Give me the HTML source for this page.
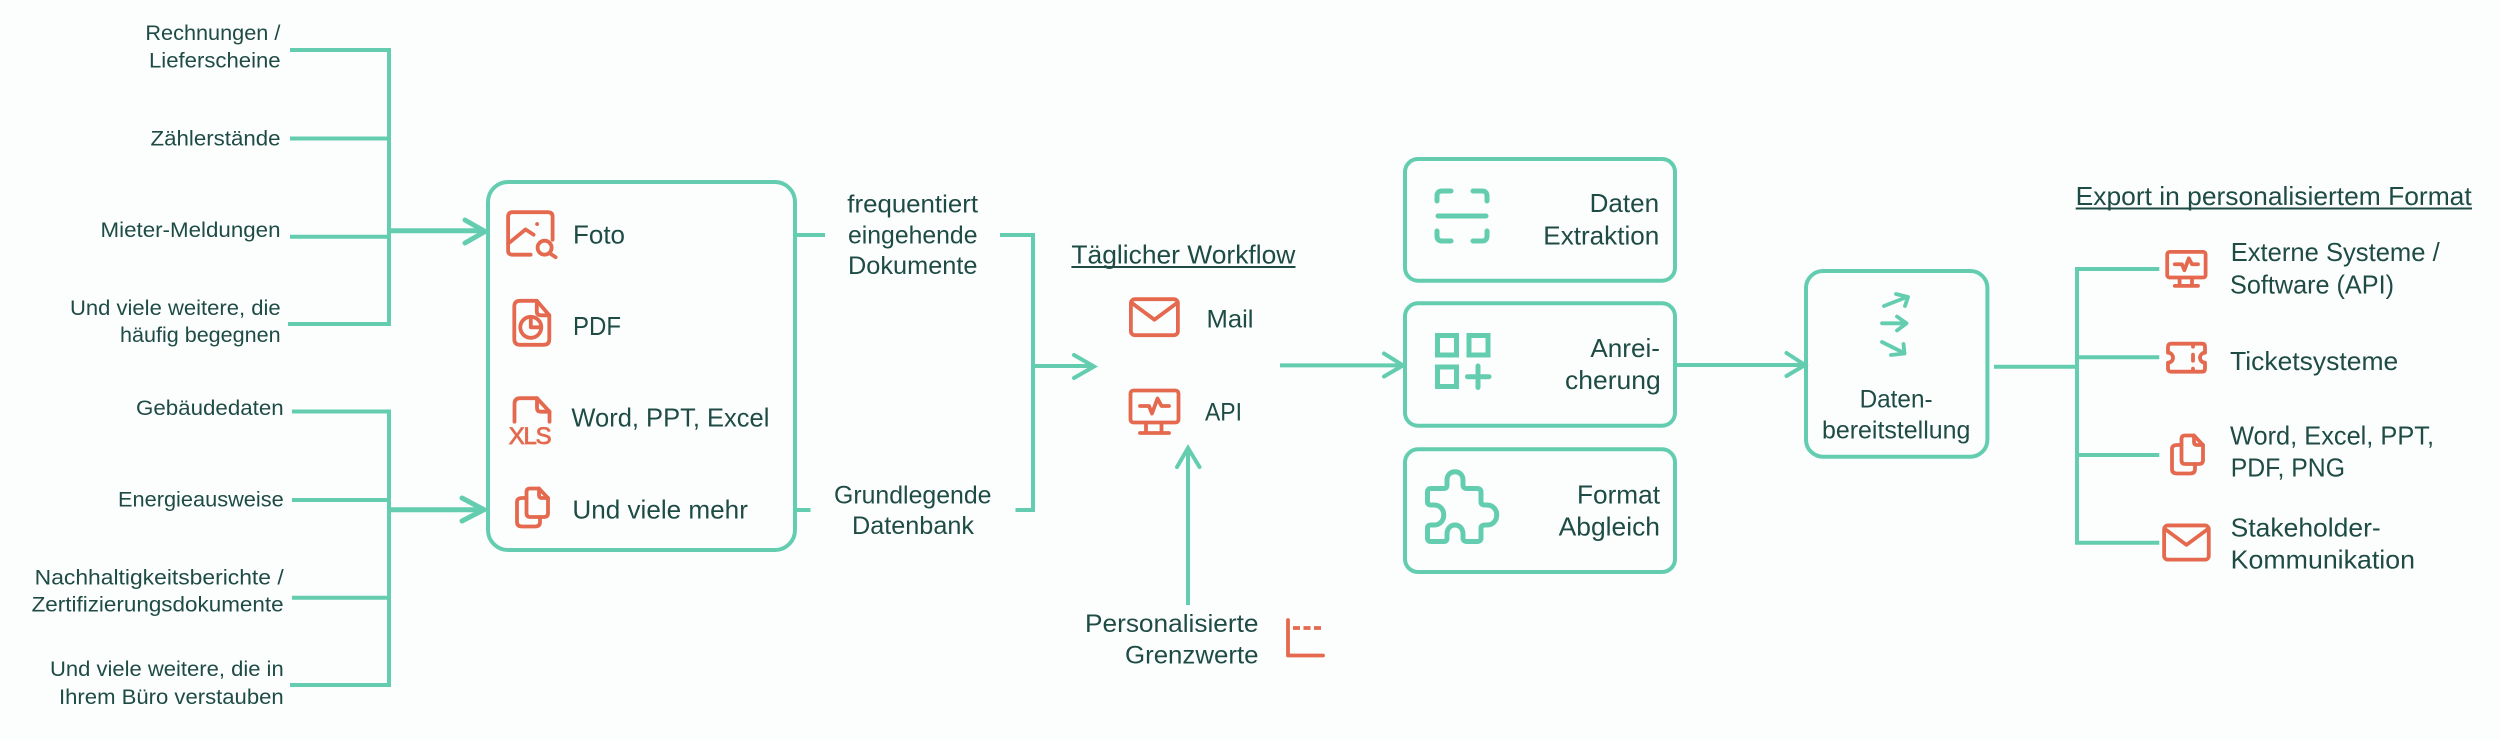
<!DOCTYPE html>
<html lang="de"><head><meta charset="utf-8"><title>Workflow</title>
<style>
html,body{margin:0;padding:0;background:#FBFEFD}
svg{display:block}
text{font-family:"Liberation Sans",sans-serif;fill:#1F4B45;stroke:none}
.s{font-size:21.5px}.m{font-size:25px}.l{font-size:26px}
.g{fill:none;stroke:#64CDB0;stroke-width:4}
.o{fill:none;stroke:#E4694F;stroke-width:3.8;stroke-linecap:round;stroke-linejoin:round}
.i{fill:none;stroke:#64CDB0;stroke-width:5;stroke-linecap:round;stroke-linejoin:round}
</style></head><body>
<svg xmlns="http://www.w3.org/2000/svg" width="2500" height="740" viewBox="0 0 2500 740">
<defs>
<g id="mail"><rect x="1.5" y="1.5" width="47" height="36" rx="4"/><path d="M2 5L25 22L48 5"/></g>
<g id="mon"><rect x="1.5" y="1.5" width="48" height="32" rx="3"/><path d="M17 34V44M32.5 34V44M11 44H40M11 17H20L23 24.500L28.500 9.500L32.500 17H40"/></g>
<g id="cop"><path d="M15 1.500H24L33 11V26Q33 30 29 30H15Q11.500 30 11.500 26V5Q11.500 1.500 15 1.500Z"/><path d="M24 1.500V8Q24 11 27 11H33"/><path d="M11.500 11H7Q2 11 2 15V35Q2 39.500 7 39.500H20Q25 39.500 25 35V30"/></g>
</defs>
<rect width="2500" height="740" fill="#FBFEFD"/>

<!-- left brackets -->
<g class="g">
<path d="M290 50H389V324H288M290 138.500H389M290 236.700H389"/>
<path d="M389 230.700H484" stroke-width="5"/>
<path d="M465 220L485 231.500L465 243" stroke-width="5" stroke-linecap="round"/>
<path d="M292 411.500H389V685H290M292 500H389M292 597.700H389"/>
<path d="M389 509.700H484" stroke-width="5"/>
<path d="M462 498L484 509.700L462 521" stroke-width="5" stroke-linecap="round"/>
<rect x="488" y="182" width="307" height="368" rx="20"/>
<path d="M795 235H825M1000 235H1033V510H1015.500M795 510H810.500M1033 366H1092"/>
<path d="M1074 355L1094 366.500L1074 378" stroke-linecap="round"/>
<path d="M1280 365.400H1400"/>
<path d="M1384 353.500L1403 365.400L1384 376.500" stroke-linecap="round"/>
<path d="M1188 605V450"/>
<path d="M1177 467L1188 448L1199.500 467" stroke-linecap="round"/>
<rect x="1405" y="159" width="270" height="121.700" rx="13"/>
<rect x="1405" y="303.300" width="270" height="122.400" rx="13"/>
<rect x="1405" y="449.300" width="270" height="122.700" rx="13"/>
<path d="M1675 365H1802"/>
<path d="M1786.500 353L1805 365L1786.500 376" stroke-linecap="round"/>
<rect x="1806" y="271" width="181.400" height="185.700" rx="17"/>
<path d="M1994 366.700H2077M2159.300 269H2077V542.700H2159.300M2077 357.300H2159.300M2077 455H2159.300"/>
</g>

<!-- left labels -->
<g class="s">
<text x="145.400" y="40" textLength="135" lengthAdjust="spacingAndGlyphs">Rechnungen /</text>
<text x="149" y="67.700" textLength="131.600" lengthAdjust="spacingAndGlyphs">Lieferscheine</text>
<text x="150.500" y="145.300" textLength="130" lengthAdjust="spacingAndGlyphs">Zählerstände</text>
<text x="100.500" y="237" textLength="180" lengthAdjust="spacingAndGlyphs">Mieter-Meldungen</text>
<text x="70" y="315" textLength="210.600" lengthAdjust="spacingAndGlyphs">Und viele weitere, die</text>
<text x="120" y="342" textLength="160.600" lengthAdjust="spacingAndGlyphs">häufig begegnen</text>
<text x="136" y="415" textLength="147.700" lengthAdjust="spacingAndGlyphs">Gebäudedaten</text>
<text x="118" y="506.700" textLength="165.700" lengthAdjust="spacingAndGlyphs">Energieausweise</text>
<text x="34.700" y="584.300" textLength="249" lengthAdjust="spacingAndGlyphs">Nachhaltigkeitsberichte /</text>
<text x="31.600" y="611.700" textLength="252" lengthAdjust="spacingAndGlyphs">Zertifizierungsdokumente</text>
<text x="50" y="676" textLength="233.700" lengthAdjust="spacingAndGlyphs">Und viele weitere, die in</text>
<text x="59" y="704" textLength="224.700" lengthAdjust="spacingAndGlyphs">Ihrem Büro verstauben</text>
</g>

<!-- box icons -->
<g class="o">
<g transform="translate(506.600,210.700)">
<path d="M24 44H6Q1.500 44 1.500 40V6Q1.500 1.500 6 1.500H41Q46 1.500 46 6V29"/>
<path d="M1.500 33L19 18.700L27 24"/>
<path d="M30.500 13.300V13.400"/>
<circle cx="38" cy="37" r="7"/><path d="M43 42.500L49 46.500"/>
</g>
<g transform="translate(512.800,299.300)">
<path d="M7 1.500H24L36.500 16V40Q36.500 45.500 31 45.500H7Q1.500 45.500 1.500 40V7Q1.500 1.500 7 1.500Z"/>
<path d="M24 1.500V12Q24 16 28 16H36.500"/>
<circle cx="18" cy="28" r="10.500"/><path d="M18 20V28H26"/>
</g>
<g transform="translate(513,396.700)">
<path d="M1.500 25V7Q1.500 1.500 7 1.500H24L36.500 15V25"/>
<path d="M24 1.500V11Q24 15 28 15H36.500"/>
</g>
<use href="#cop" transform="translate(515,487)"/>
<use href="#mail" transform="translate(1129.400,297.700)"/>
<use href="#mon" transform="translate(1129,389)"/>
<path d="M1288 620V655.500H1323"/>
<path d="M1293 628H1324" stroke-dasharray="7 3.500" stroke-linecap="butt"/>
<use href="#mon" transform="translate(2166,250.700) scale(.8)" stroke-width="4.700"/>
<path transform="translate(2166,341.700)" d="M5 2H36Q39 2 39 5V11A5 5 0 0 0 39 21V27Q39 30 36 30H5Q2 30 2 27V21A5 5 0 0 0 2 11V5Q2 2 5 2ZM27 2V5M27 13V19M27 27V30"/>
<use href="#cop" transform="translate(2170,434)"/>
<use href="#mail" transform="translate(2162.700,524) scale(.95)" stroke-width="4"/>
</g>
<text x="508.700" y="444" font-size="24" style="fill:#E4694F;stroke:#E4694F;stroke-width:.8;letter-spacing:3px" textLength="46" lengthAdjust="spacing">XLS</text>

<!-- box labels -->
<g class="l">
<text x="573" y="243.300" textLength="52" lengthAdjust="spacingAndGlyphs">Foto</text>
<text x="573" y="335" textLength="48" lengthAdjust="spacingAndGlyphs">PDF</text>
<text x="571.400" y="426.700" textLength="198" lengthAdjust="spacingAndGlyphs">Word, PPT, Excel</text>
<text x="572.400" y="518.300" textLength="175.500" lengthAdjust="spacingAndGlyphs">Und viele mehr</text>
</g>

<!-- middle -->
<g class="m">
<text x="847.300" y="212.700" textLength="130.700" lengthAdjust="spacingAndGlyphs">frequentiert</text>
<text x="848" y="243.300" textLength="129.500" lengthAdjust="spacingAndGlyphs">eingehende</text>
<text x="848" y="274" textLength="129.500" lengthAdjust="spacingAndGlyphs">Dokumente</text>
<text x="834" y="503.600" textLength="157.500" lengthAdjust="spacingAndGlyphs">Grundlegende</text>
<text x="852" y="534" textLength="122" lengthAdjust="spacingAndGlyphs">Datenbank</text>
<text x="1206.500" y="327.500" textLength="47" lengthAdjust="spacingAndGlyphs">Mail</text>
<text x="1205" y="420.500" textLength="37" lengthAdjust="spacingAndGlyphs">API</text>
<text x="1085" y="631.800" textLength="173.500" lengthAdjust="spacingAndGlyphs">Personalisierte</text>
<text x="1125" y="663.500" textLength="133.500" lengthAdjust="spacingAndGlyphs">Grenzwerte</text>
</g>
<text class="l" x="1071.400" y="263.600" textLength="224" lengthAdjust="spacingAndGlyphs">Täglicher Workflow</text>
<path d="M1071.400 267H1295.500" stroke="#1F4B45" stroke-width="2"/>

<!-- process boxes -->
<g class="l">
<text x="1589.600" y="212" textLength="69.500" lengthAdjust="spacingAndGlyphs">Daten</text>
<text x="1543.300" y="244.300" textLength="116" lengthAdjust="spacingAndGlyphs">Extraktion</text>
<text x="1590.400" y="357" textLength="69.600" lengthAdjust="spacingAndGlyphs">Anrei-</text>
<text x="1565" y="389" textLength="95.700" lengthAdjust="spacingAndGlyphs">cherung</text>
<text x="1577" y="503.300" textLength="83" lengthAdjust="spacingAndGlyphs">Format</text>
<text x="1558.700" y="535.300" textLength="101.300" lengthAdjust="spacingAndGlyphs">Abgleich</text>
</g>
<g class="i">
<path d="M1451 191H1442Q1437 191 1437 196V201M1473 191H1482Q1487 191 1487 196V201M1451 241H1442Q1437 241 1437 236V231M1473 241H1482Q1487 241 1487 236V231M1438 216H1486"/>
<rect x="1437.500" y="335.500" width="19" height="19.500" stroke-linejoin="miter"/>
<rect x="1469" y="335.500" width="19" height="19.500" stroke-linejoin="miter"/>
<rect x="1437.500" y="367" width="19" height="19.500" stroke-linejoin="miter"/>
<path d="M1467.500 376.700H1489M1478 366V387.500"/>
<path d="M1431 488.500H1444Q1447 488.500 1447 485V480C1447 469 1463 469 1463 480V485Q1463 488.500 1467 488.500H1477Q1481 488.500 1481 492V502Q1481 505 1485 505H1487C1500 505 1500 525 1487 525H1485Q1481 525 1481 528V538Q1481 541.500 1477 541.500H1467Q1463 541.500 1463 538V534C1463 522 1447 522 1447 534V538Q1447 541.500 1444 541.500H1431Q1427.500 541.500 1427.500 538V528Q1427.500 525 1431 525H1434C1447 525 1447 505 1434 505H1431Q1427.500 505 1427.500 502V492Q1427.500 488.500 1431 488.500Z"/>
<path d="M1884 306L1907 297M1896 294L1908 297L1905 306M1882 323.300H1906M1897 316.500L1906.500 323.300L1897 330.500M1882 342L1904 353M1891 355L1904.500 353.500L1903.500 344" stroke-width="3.800"/>
</g>
<g class="m">
<text x="1859.600" y="407.700" textLength="73" lengthAdjust="spacingAndGlyphs">Daten-</text>
<text x="1822" y="438.300" textLength="148.400" lengthAdjust="spacingAndGlyphs">bereitstellung</text>
</g>

<!-- right -->
<g class="l">
<text x="2075.700" y="205" textLength="396" lengthAdjust="spacingAndGlyphs">Export in personalisiertem Format</text>
<text x="2230.700" y="261" textLength="209" lengthAdjust="spacingAndGlyphs">Externe Systeme /</text>
<text x="2230" y="293.300" textLength="164" lengthAdjust="spacingAndGlyphs">Software (API)</text>
<text x="2230" y="370" textLength="168.300" lengthAdjust="spacingAndGlyphs">Ticketsysteme</text>
<text x="2230" y="444.300" textLength="204" lengthAdjust="spacingAndGlyphs">Word, Excel, PPT,</text>
<text x="2230.700" y="476.700" textLength="114.300" lengthAdjust="spacingAndGlyphs">PDF, PNG</text>
<text x="2230.700" y="536.700" textLength="150" lengthAdjust="spacingAndGlyphs">Stakeholder-</text>
<text x="2230.700" y="568.700" textLength="184.300" lengthAdjust="spacingAndGlyphs">Kommunikation</text>
</g>
<path d="M2075.700 208.500H2472" stroke="#1F4B45" stroke-width="2"/>
</svg>
</body></html>
